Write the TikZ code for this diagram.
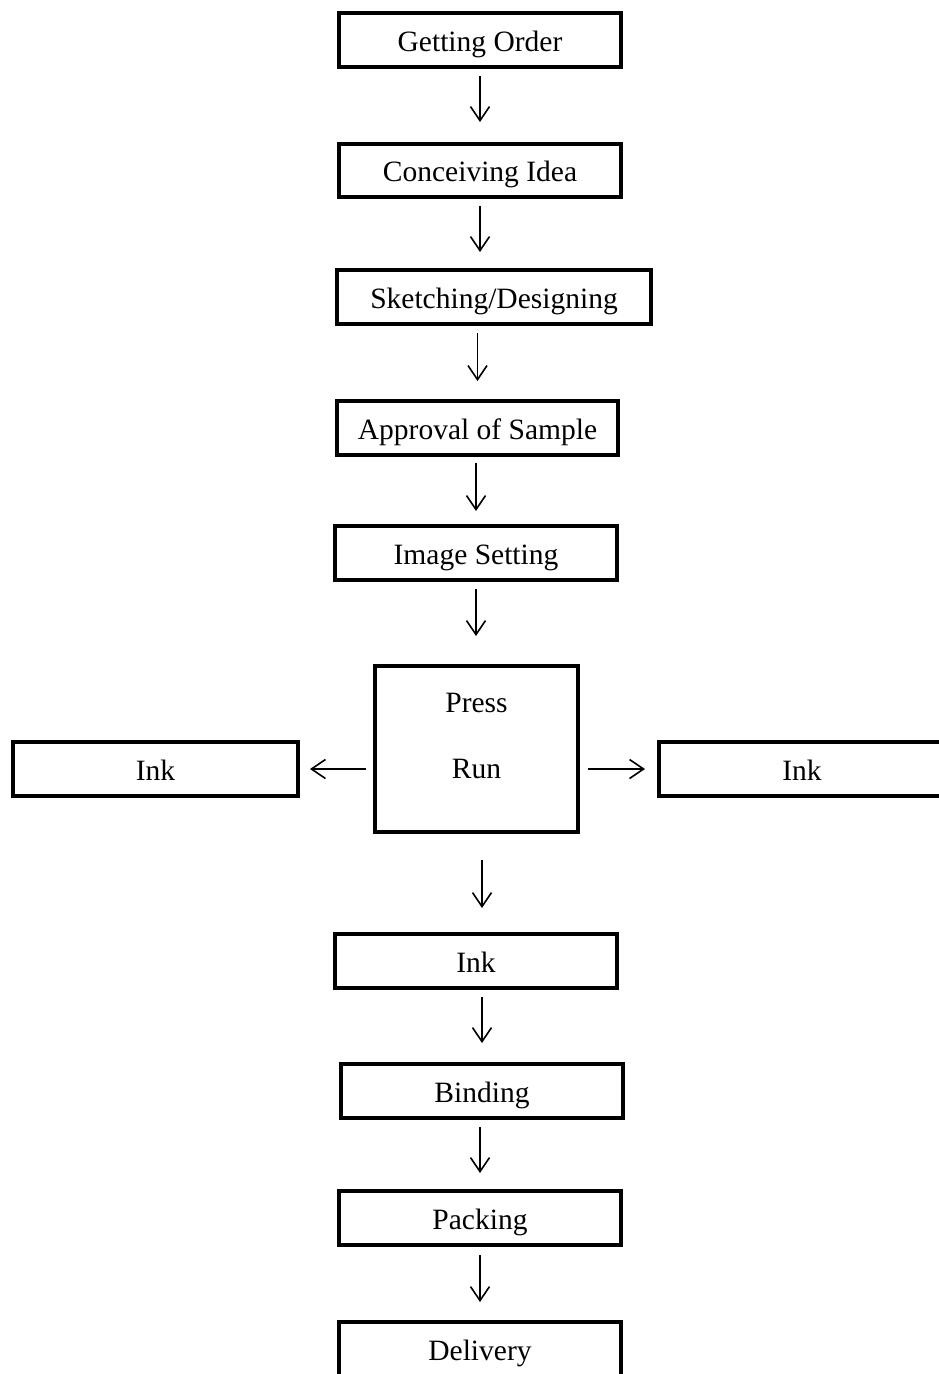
\documentclass[tikz,border=0pt]{standalone}
\usepackage{fontspec}
\setmainfont{Liberation Serif}
\usetikzlibrary{arrows.meta}
\tikzset{
  box/.style={draw=black, line width=4pt, minimum width=282pt, minimum height=54pt, inner sep=0pt, text height=24pt, text depth=2pt, font=\fontsize{29.5}{34}\selectfont},
  txt/.style={inner sep=0pt, font=\fontsize{29.5}{34}\selectfont},
  arr/.style={line width=1.6pt, -{Straight Barb[length=14pt,width=19pt,line width=1.6pt]}}
}
\begin{document}
\begin{tikzpicture}[x=1pt,y=-1pt]
\useasboundingbox (0,0) rectangle (938,1374);
\node[box] (b1) at (480,40) {Getting Order};
\node[box, minimum height=53pt] (b2) at (480,170.5) {Conceiving Idea};
\node[box, minimum width=314pt] (b3) at (494,297) {Sketching/Designing};
\node[box, minimum width=281pt] (b4) at (477.5,428) {Approval of Sample};
\node[box] (b5) at (476,553) {Image Setting};
\node[box, minimum width=203pt, minimum height=166pt] (press) at (476.5,749) {};
\node[txt] (presst) at (476.5,703) {Press};
\node[txt] (runt) at (476.5,769) {Run};
\node[box, minimum width=285pt] (inkL) at (155.5,769) {Ink};
\node[box, minimum width=286pt] (inkR) at (802,769) {Ink};
\node[box] (b9) at (476,961) {Ink};
\node[box] (b10) at (482,1091) {Binding};
\node[box] (b11) at (480,1218) {Packing};
\node[box] (b12) at (480,1349) {Delivery};

\draw[arr, shorten <=7pt, shorten >=20pt] (b1.south) -- (b2.north);
\draw[arr, shorten <=7pt, shorten >=16pt] (b2.south) -- (b3.north -| b2.south);
\draw[arr, shorten <=7pt, shorten >=18pt] (b3.south -| b4.north) -- (b4.north);
\draw[arr, shorten <=6pt, shorten >=13pt] (b4.south -| b5.north) -- (b5.north);
\draw[arr, shorten <=7pt, shorten >=28pt] (b5.south) -- (press.north -| b5.south);
\draw[arr, shorten <=7pt, shorten >=10pt] (press.west |- inkL.east) -- (inkL.east);
\draw[arr, shorten <=8pt, shorten >=12pt] (press.east |- inkR.west) -- (inkR.west);
\draw[arr, shorten <=26pt, shorten >=24pt] (press.south -| b10.north) -- (b9.north -| b10.north);
\draw[arr, shorten <=7pt, shorten >=19pt] (b9.south -| b10.north) -- (b10.north);
\draw[arr, shorten <=7pt, shorten >=16pt] (b10.south -| b11.north) -- (b11.north);
\draw[arr, shorten <=8pt, shorten >=18pt] (b11.south) -- (b12.north);
\end{tikzpicture}
\end{document}
